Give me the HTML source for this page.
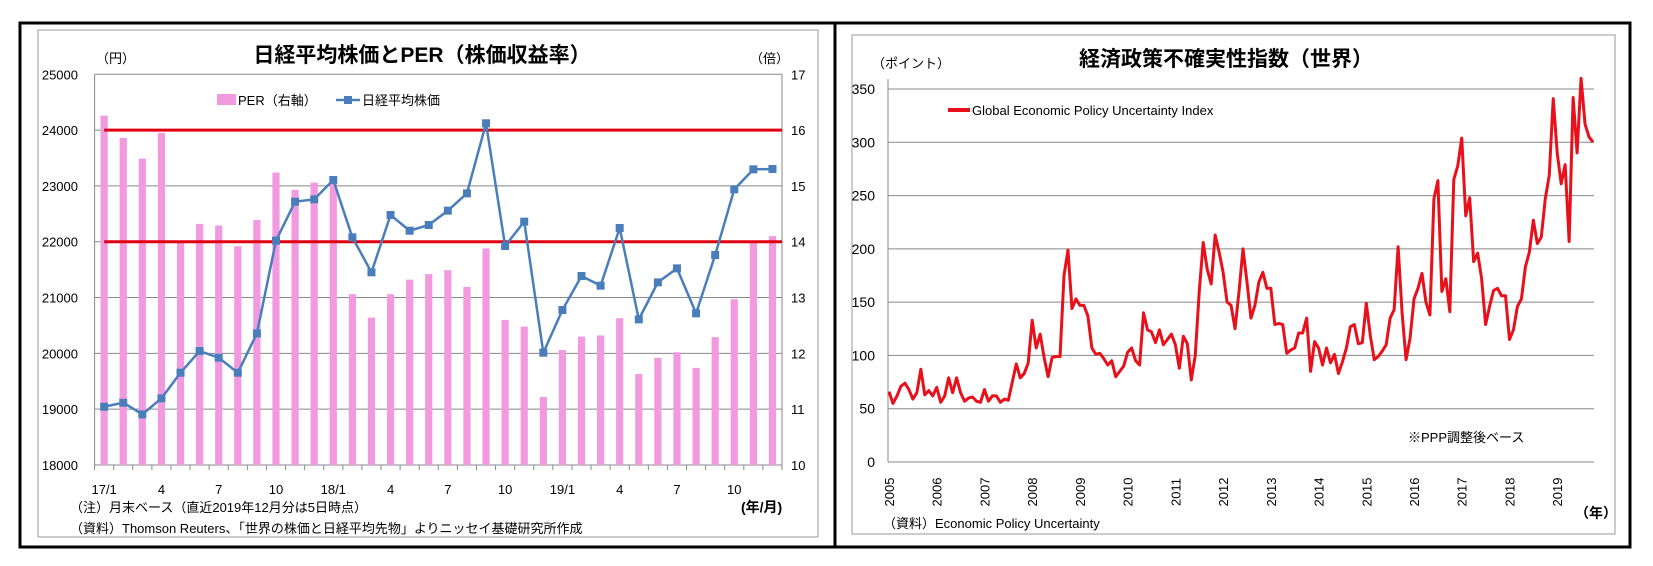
<!DOCTYPE html>
<html><head><meta charset="utf-8"><style>
body{margin:0;background:#fff;}
svg{display:block;font-family:"Liberation Sans","Noto Sans CJK JP",sans-serif;}
</style></head><body>
<svg id="root" width="1653" height="566" viewBox="0 0 1653 566">
<rect x="0" y="0" width="1653" height="566" fill="#fff"/>
<rect x="20" y="23" width="1610" height="524" fill="none" stroke="#000" stroke-width="3"/>
<line x1="835" y1="23" x2="835" y2="547" stroke="#000" stroke-width="3"/>
<rect x="38" y="30" width="780" height="507" fill="none" stroke="#999" stroke-width="1"/>
<rect x="852" y="35" width="763" height="499" fill="none" stroke="#999" stroke-width="1"/>
<g id="left"></g>
<g id="right"></g>
</svg>
<script>
// ---- Left chart data ----
const monthLabels = ["17/1","","","4","","","7","","","10","","","18/1","","","4","","","7","","","10","","","19/1","","","4","","","7","","","10","",""];
const perValues = [16.26,15.86,15.49,15.95,14.0,14.32,14.29,13.92,14.39,15.24,14.93,15.06,15.04,13.06,12.64,13.06,13.32,13.42,13.49,13.19,13.88,12.6,12.48,11.22,12.06,12.3,12.32,12.63,11.63,11.92,12.02,11.74,12.29,12.97,14.01,14.1];
const nikkeiValues = [19044,19116,18907,19194,19654,20042,19922,19654,20358,22019,22718,22760,23106,22079,21452,22479,22198,22300,22557,22867,24122,21924,22360,20012,20777,21386,21213,22246,20609,21272,21523,20717,21762,22939,23297,23303];
const leftTicks = [18000,19000,20000,21000,22000,23000,24000,25000];
const rightTicks = [10,11,12,13,14,15,16,17];
const refLines = [24000,22000];
// ---- Right chart data ----
const yearLabels = ["2005","2006","2007","2008","2009","2010","2011","2012","2013","2014","2015","2016","2017","2018","2019"];
const epuValues = [66,55,62,71,74,68,59,65,87,63,67,62,
70,56,62,79,65,79,65,57,60,61,57,56,
68,57,62,62,56,59,58,75,92,79,83,93,
133,107,120,98,80,98,99,99,175,199,144,153,
147,147,137,107,101,102,97,91,95,80,85,90,
103,107,95,91,140,124,122,112,124,110,115,120,
110,88,118,111,77,100,160,206,181,167,213,197,
178,150,147,125,160,200,169,135,147,169,178,163,
163,129,130,129,102,105,107,121,121,135,85,113,
107,91,107,93,101,83,94,107,127,129,111,112,
149,119,96,99,104,110,135,143,202,140,96,116,
153,163,177,150,138,247,264,160,172,141,265,278,
304,231,248,188,196,172,129,146,161,163,156,156,
115,124,146,153,183,197,227,205,211,247,269,341,
290,261,279,207,342,290,360,317,305,300];
const epuTicks = [0,50,100,150,200,250,300,350];

const NS="http://www.w3.org/2000/svg";
function mk(parent,tag,attrs,text){const e=document.createElementNS(NS,tag);for(const k in attrs)e.setAttribute(k,attrs[k]);if(text!==undefined)e.textContent=text;parent.appendChild(e);return e;}

// ---- Left chart ----
const L=document.getElementById('left');
const lx0=94.6, lx1=782, ly0=465, ly1=74.3;
const n=perValues.length, cw=(lx1-lx0)/n;
const yL=v=>ly0-(v-18000)/(25000-18000)*(ly0-ly1);
const yR=v=>ly0-(v-10)/(17-10)*(ly0-ly1);
const xC=i=>lx0+cw*(i+0.5);
leftTicks.forEach(t=>{
  const g=mk(L,'line',{x1:lx0,x2:lx1,y1:yL(t),y2:yL(t),stroke:'#888','stroke-width':1});
  
  
  const tx=mk(L,'text',{x:78,y:yL(t)+5,'text-anchor':'end','font-size':13},String(t));
  
  
});
rightTicks.forEach(t=>{
  const tx=mk(L,'text',{x:791,y:yR(t)+5,'font-size':13},String(t));
  
  
});
perValues.forEach((v,i)=>{
  const r=mk(L,'rect',{x:xC(i)-3.6,y:yR(v),width:7.2,height:ly0-yR(v),fill:'#f29ae0'});
  
  
});
mk(L,'line',{x1:lx0,x2:lx0,y1:ly1,y2:ly0,stroke:'#888'});
mk(L,'line',{x1:lx1,x2:lx1,y1:ly1,y2:ly0,stroke:'#888'});
for(let i=0;i<=n;i++){const l=mk(L,'line',{x1:lx0+cw*i,x2:lx0+cw*i,y1:ly0,y2:ly0+5,stroke:'#888'});
  
  }
monthLabels.forEach((s,i)=>{if(!s)return;
  const t=mk(L,'text',{x:xC(i),y:494,'text-anchor':'middle','font-size':13},s);
  
  });
refLines.forEach(v=>{
  const l=mk(L,'line',{x1:xC(0),x2:lx1,y1:yL(v),y2:yL(v),stroke:'#e00010','stroke-width':3});
  
  
});
const pts=nikkeiValues.map((v,i)=>xC(i)+','+yL(v)).join(' ');
const pl=mk(L,'polyline',{points:pts,fill:'none',stroke:'#4a7ebb','stroke-width':2.5});


nikkeiValues.forEach((v,i)=>{
  const m=mk(L,'rect',{x:xC(i)-4,y:yL(v)-4,width:8,height:8,fill:'#4a7ebb'});
  
  
});
// ---- Right chart ----
const R=document.getElementById('right');
const rx0=888, rx1=1594, ry0=462, ry1=89;
const m=epuValues.length, step=(1593-889)/(m-1);
const xE=i=>889+step*i;
const yE=v=>ry0-v/350*(ry0-ry1);
epuTicks.forEach(t=>{
  const g=mk(R,'line',{x1:rx0,x2:rx1,y1:yE(t),y2:yE(t),stroke:'#888'});
  
  
  const tx=mk(R,'text',{x:875,y:yE(t)+5,'text-anchor':'end','font-size':14},String(t));
  
  
});
mk(R,'line',{x1:rx0,x2:rx0,y1:ry1-10,y2:ry0,stroke:'#888'});
yearLabels.forEach((s,k)=>{
  const x=xE(k*12)+5;
  const t=mk(R,'text',{x:x,y:492,'text-anchor':'middle','font-size':13,transform:'rotate(-90 '+x+' 492)'},s);
  
  
});
const ep=mk(R,'polyline',{points:epuValues.map((v,i)=>xE(i)+','+yE(v)).join(' '),fill:'none',stroke:'#e8101a','stroke-width':3,'stroke-linejoin':'round'});


</script>
<svg style="position:absolute;left:0;top:0" width="1653" height="566" font-family="Liberation Sans, Noto Sans CJK JP, sans-serif">
<text x="422" y="62" text-anchor="middle" font-size="21" font-weight="bold">日経平均株価とPER（株価収益率）</text>
<text x="96" y="63" font-size="13">（円）</text>
<text x="750" y="63" font-size="13">（倍）</text>
<rect x="217" y="94" width="19" height="11" fill="#f29ae0"/>
<text x="238" y="105" font-size="13">PER（右軸）</text>
<line x1="336" y1="100" x2="360" y2="100" stroke="#4a7ebb" stroke-width="2.5"/>
<rect x="344" y="96" width="8" height="8" fill="#4a7ebb"/>
<text x="362" y="105" font-size="13">日経平均株価</text>
<text x="741" y="512" font-size="14" font-weight="bold">(年/月)</text>
<text x="70" y="512" font-size="13">（注）月末ベース（直近2019年12月分は5日時点）</text>
<text x="70" y="533" font-size="13">（資料）Thomson Reuters、「世界の株価と日経平均先物」よりニッセイ基礎研究所作成</text>
<text x="1226" y="66" text-anchor="middle" font-size="21" font-weight="bold">経済政策不確実性指数（世界）</text>
<text x="872" y="68" font-size="13">（ポイント）</text>
<line x1="948" y1="110" x2="970" y2="110" stroke="#e8101a" stroke-width="4"/>
<text x="972" y="115" font-size="13">Global Economic Policy Uncertainty Index</text>
<text x="1408" y="442" font-size="13">※PPP調整後ベース</text>
<text x="1575" y="518" font-size="14" font-weight="bold">（年）</text>
<text x="883" y="528" font-size="13">（資料）Economic Policy Uncertainty</text>
</svg>
</body></html>
